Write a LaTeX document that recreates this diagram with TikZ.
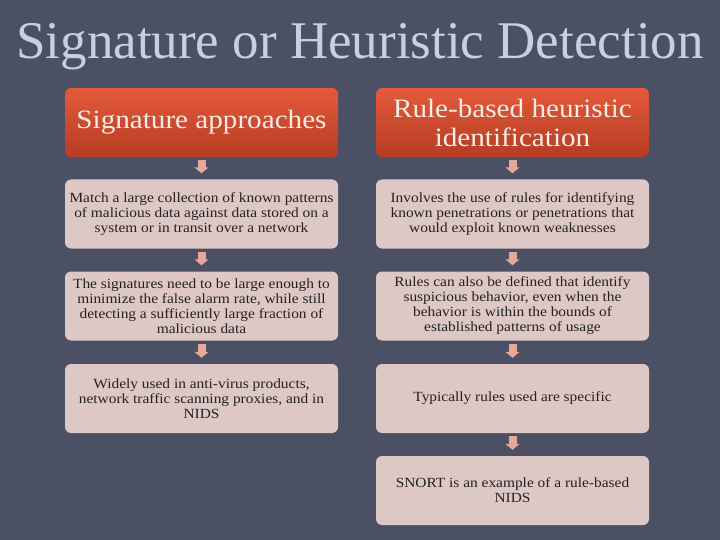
\documentclass[tikz,border=0pt]{standalone}
\usepackage{fontspec}
\setmainfont{Liberation Serif}
\newfontfamily\widefont{Liberation Serif}[FakeStretch=1.1]
\usetikzlibrary{arrows.meta}
\definecolor{bg}{HTML}{4B5065}
\definecolor{titlecol}{HTML}{C8CFDD}
\definecolor{orangetop}{HTML}{E35A3A}
\definecolor{orangebot}{HTML}{B63C22}
\definecolor{lightbox}{HTML}{DEC8C6}
\definecolor{arrowcol}{HTML}{E6A898}
\definecolor{headtext}{HTML}{F8ECE6}
\definecolor{bodytext}{HTML}{222222}
\tikzset{
  header/.style={rectangle, rounded corners=6pt, minimum width=273pt, minimum height=69pt,
    top color=orangetop, bottom color=orangebot, draw=none, text=headtext, align=center,
    font=\widefont\fontsize{26.5}{29}\selectfont, inner sep=2pt},
  body/.style={rectangle, rounded corners=6pt, minimum width=273pt, minimum height=69pt,
    fill=lightbox, draw=none, text=bodytext, align=center,
    font=\widefont\fontsize{14}{15}\selectfont, inner sep=2pt},
  blockarrow/.style={draw=arrowcol, line width=8pt, line cap=butt,
    -{Triangle[width=14pt,length=6pt]}, shorten <=3pt, shorten >=6pt}
}
\begin{document}
\begin{tikzpicture}[x=1pt,y=-1pt]
\fill[bg] (0,0) rectangle (720,540);
\useasboundingbox (0,0) rectangle (720,540);
\node[text=titlecol, font=\fontsize{53}{58}\selectfont, anchor=base] (title) at (360,59) {Signature or Heuristic Detection};

\node[header] (l1) at (201.5,122.5) {Signature approaches};
\node[header] (r1) at (512.5,122.5) {Rule-based heuristic\\identification};

\node[body] (l2) at (201.5,214) {Match a large collection of known patterns\\of malicious data against data stored on a\\system or in transit over a network};
\node[body] (r2) at (512.5,214) {Involves the use of rules for identifying\\known penetrations or penetrations that\\would exploit known weaknesses};

\node[body] (l3) at (201.5,306) {The signatures need to be large enough to\\minimize the false alarm rate, while still\\detecting a sufficiently large fraction of\\malicious data};
\node[body] (r3) at (512.5,306) {Rules can also be defined that identify\\suspicious behavior, even when the\\behavior is within the bounds of\\established patterns of usage};

\node[body] (l4) at (201.5,398.5) {Widely used in anti-virus products,\\network traffic scanning proxies, and in\\NIDS};
\node[body] (r4) at (512.5,398.5) {Typically rules used are specific};

\node[body] (r5) at (512.5,490.5) {SNORT is an example of a rule-based\\NIDS};

\draw[blockarrow] (l1) -- (l2);
\draw[blockarrow] (l2) -- (l3);
\draw[blockarrow] (l3) -- (l4);
\draw[blockarrow] (r1) -- (r2);
\draw[blockarrow] (r2) -- (r3);
\draw[blockarrow] (r3) -- (r4);
\draw[blockarrow] (r4) -- (r5);
\end{tikzpicture}
\end{document}
